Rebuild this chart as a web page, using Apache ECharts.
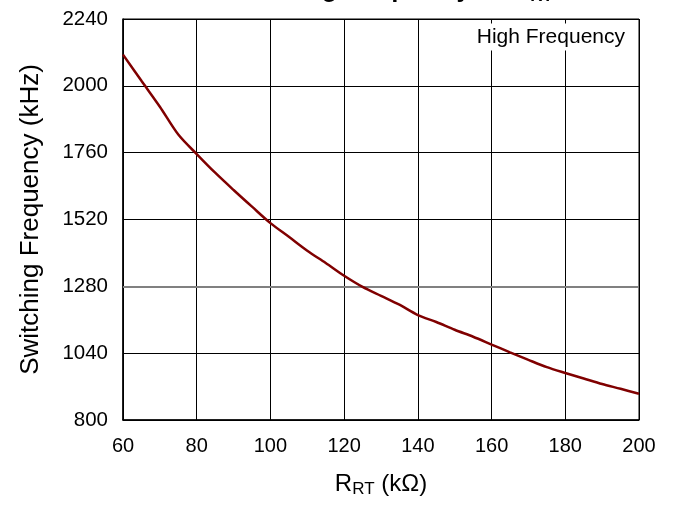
<!DOCTYPE html>
<html>
<head>
<meta charset="utf-8">
<script src="https://cdn.jsdelivr.net/npm/echarts@6/dist/echarts.min.js"></script>
<style>
html,body{margin:0;padding:0;background:#fff;}
#c{width:676px;height:506px;}
</style>
</head>
<body>
<div id="c"></div>
<script>
// Data
const rrt = [60,65,70,75,80,85,90,95,100,105,110,115,120,125,130,135,140,145,150,155,160,165,170,175,180,185,190,195,200];
const freq = [2112,2018,1925,1825,1755,1688,1626,1566,1507,1458,1408,1364,1318,1278,1246,1214,1177,1152,1124,1099,1071,1043,1016,990,969,949,929,912,894];
const xTicks = [60,80,100,120,140,160,180,200];
const yTicks = [800,1040,1280,1520,1760,2000,2240];
const highlightY = 1280;
const FONT = 'Liberation Sans, Arial, sans-serif';

const chart = echarts.init(document.getElementById('c'), null, {renderer:'canvas'});
chart.setOption({
  animation:false,
  backgroundColor:'#fff',
  title:{
    text:'{m|Switching Frequency vs R}{s|RT}',
    left:381, top:-30, textAlign:'center',
    textStyle:{
      rich:{
        m:{fontFamily:FONT,fontSize:25,fontWeight:'bold',color:'#000',lineHeight:30,verticalAlign:'middle'},
        s:{fontFamily:FONT,fontSize:17,fontWeight:'bold',color:'#000',lineHeight:17,verticalAlign:'bottom'}
      }
    }
  },
  grid:{left:123,right:37,top:19,bottom:86,show:true,borderColor:'#000',borderWidth:1,backgroundColor:'#fff'},
  xAxis:{
    type:'value', min:xTicks[0], max:xTicks[xTicks.length-1], interval:20,
    name:'{a|R}{b|RT}{a| (kΩ)}', nameLocation:'middle', nameGap:50,
    nameTextStyle:{rich:{
      a:{fontFamily:FONT,fontSize:24,color:'#000',lineHeight:28,verticalAlign:'middle'},
      b:{fontFamily:FONT,fontSize:17,color:'#000',lineHeight:17,verticalAlign:'bottom'}
    }},
    axisLine:{show:true,lineStyle:{color:'#000',width:1.5}},
    axisTick:{show:false},
    axisLabel:{fontFamily:FONT,fontSize:20,color:'#000',margin:16,formatter:v=>String(v)},
    splitLine:{show:true,lineStyle:{color:'#000',width:1}}
  },
  yAxis:{
    type:'value', min:yTicks[0], max:yTicks[yTicks.length-1], interval:240,
    name:'Switching Frequency (kHz)', nameLocation:'middle', nameGap:79,
    nameTextStyle:{fontFamily:FONT,fontSize:26,color:'#000'},
    axisLine:{show:true,lineStyle:{color:'#000',width:1.5}},
    axisTick:{show:false},
    axisLabel:{fontFamily:FONT,fontSize:20.5,color:'#000',margin:15,formatter:v=>String(v)},
    splitLine:{show:true,lineStyle:{color:'#000',width:1}}
  },
  graphic:[{
    type:'text', x:629, y:37, z:50,
    style:{text:'High Frequency',fontFamily:FONT,fontSize:21,fill:'#000',align:'right',verticalAlign:'middle',backgroundColor:'#fff',padding:[3,4]}
  }],
  series:[{
    type:'line', data:rrt.map((x,i)=>[x,freq[i]]), showSymbol:false, symbol:'none',
    smooth:0.3,
    lineStyle:{color:'#800000',width:2.5}, z:5,
    markLine:{silent:true,symbol:['none','none'],label:{show:false},
      lineStyle:{color:'#808080',width:2,type:'solid'},
      data:[{yAxis:highlightY}], z:3}
  }]
});
</script>
</body>
</html>
